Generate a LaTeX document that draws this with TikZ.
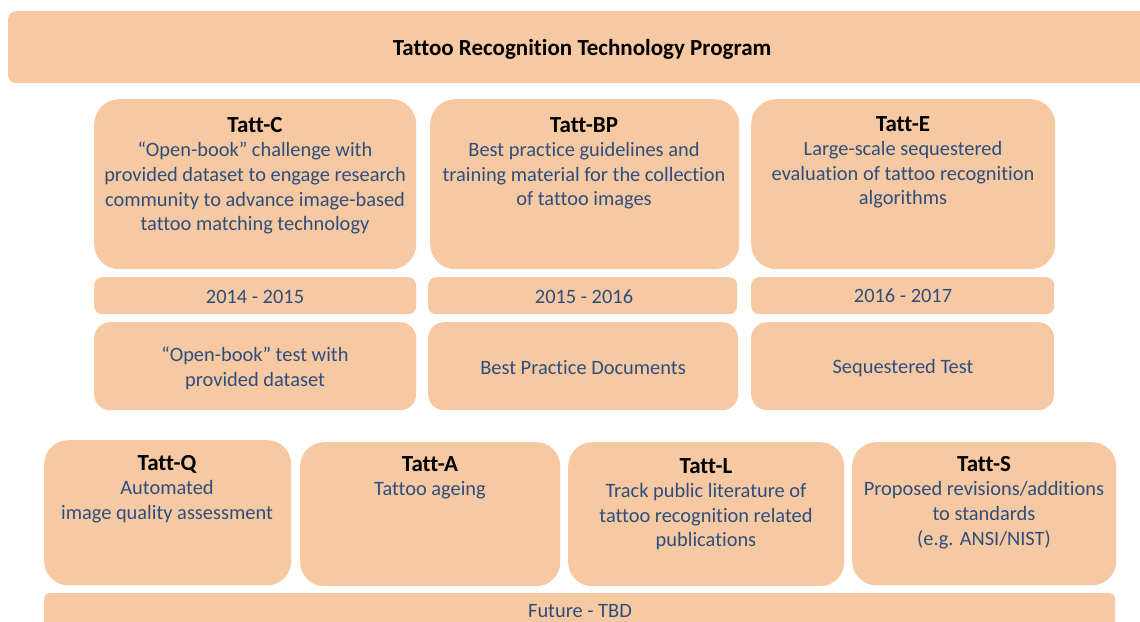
\documentclass[tikz,border=0pt]{standalone}
\usepackage{fontspec}
\setmainfont{Carlito}[Ligatures={NoCommon}]
\definecolor{peach}{RGB}{247,201,163}
\definecolor{tblue}{RGB}{45,78,124}
\tikzset{
  pbox/.style={fill=peach, inner sep=0pt, anchor=north west},
  body/.style={text=tblue, align=center, inner sep=0pt, font=\fontsize{20.4}{24.6}\selectfont},
}
\newcommand{\ttlt}[1]{{\color{black}\fontsize{23}{24.6}\selectfont\bfseries #1}}
\begin{document}
\begin{tikzpicture}[x=1pt,y=-1pt]
\clip (0,0) rectangle (1140,621);
\fill[white] (0,0) rectangle (1140,621);
% banner
\node[pbox, rounded corners=8pt, minimum width=1160pt, minimum height=72pt] (banner) at (8,11) {};
\node[text=black, inner sep=0pt, font=\fontsize{23}{26}\selectfont\bfseries] (bannert) at (582,49) {Tattoo Recognition Technology Program};
% top row
\node[pbox, rounded corners=25pt, minimum width=322pt, minimum height=170pt] (c) at (94,99) {};
\node[pbox, rounded corners=25pt, minimum width=309pt, minimum height=170pt] (bp) at (430,99) {};
\node[pbox, rounded corners=25pt, minimum width=304pt, minimum height=170pt] (e) at (751,99) {};
\node[body, anchor=north] (ct) at (255,117) {\ttlt{Tatt-C}\\“Open-book” challenge with\\provided dataset to engage research\\community to advance image-based\\tattoo matching technology};
\node[body, anchor=north] (bpt) at (584,117) {\ttlt{Tatt-BP}\\Best practice guidelines and\\training material for the collection\\of tattoo images};
\node[body, anchor=north] (et) at (903,116) {\ttlt{Tatt-E}\\Large-scale sequestered\\evaluation of tattoo recognition\\algorithms};
% years
\node[pbox, rounded corners=8pt, minimum width=322pt, minimum height=37pt] (y1) at (94,277) {};
\node[pbox, rounded corners=8pt, minimum width=309pt, minimum height=37pt] (y2) at (428,277) {};
\node[pbox, rounded corners=8pt, minimum width=303pt, minimum height=37pt] (y3) at (751,277) {};
\node[body] (y1t) at (255,297) {2014 - 2015};
\node[body] (y2t) at (584,297) {2015 - 2016};
\node[body] (y3t) at (903,296) {2016 - 2017};
% deliverables
\node[pbox, rounded corners=16pt, minimum width=322pt, minimum height=88pt] (d1) at (94,322) {};
\node[pbox, rounded corners=16pt, minimum width=310pt, minimum height=88pt] (d2) at (428,322) {};
\node[pbox, rounded corners=16pt, minimum width=303pt, minimum height=88pt] (d3) at (751,322) {};
\node[body] (d1t) at (255,368) {“Open-book” test with\\provided dataset};
\node[body] (d2t) at (583,368) {Best Practice Documents};
\node[body] (d3t) at (903,368) {Sequestered Test};
% bottom row
\node[pbox, rounded corners=24pt, minimum width=247pt, minimum height=145pt] (q) at (44,440) {};
\node[pbox, rounded corners=24pt, minimum width=260pt, minimum height=144pt] (a) at (300,442) {};
\node[pbox, rounded corners=24pt, minimum width=276pt, minimum height=144pt] (l) at (568,442) {};
\node[pbox, rounded corners=24pt, minimum width=264pt, minimum height=143pt] (s) at (852,442) {};
\node[body, anchor=north] (qt) at (167,455) {\ttlt{Tatt-Q}\\Automated\\image quality assessment};
\node[body, anchor=north] (at) at (430,456) {\ttlt{Tatt-A}\\Tattoo ageing};
\node[body, anchor=north] (lt) at (706,458) {\ttlt{Tatt-L}\\Track public literature of\\tattoo recognition related\\publications};
\node[body, anchor=north] (st) at (984,456) {\ttlt{Tatt-S}\\Proposed revisions/additions\\to standards\\(e.g. ANSI/NIST)};
% future
\node[pbox, rounded corners=5pt, minimum width=1071pt, minimum height=50pt] (f) at (44,593) {};
\node[body] (ft) at (580,611) {Future - TBD};
\end{tikzpicture}
\end{document}
